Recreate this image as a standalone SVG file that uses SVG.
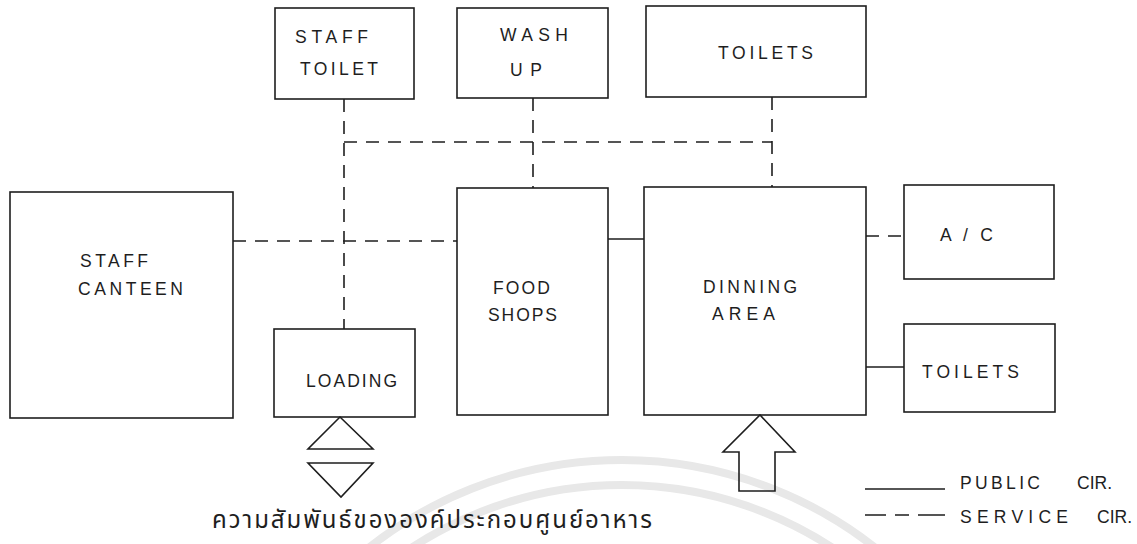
<svg xmlns="http://www.w3.org/2000/svg" width="1137" height="544" viewBox="0 0 1137 544">
<defs>
<style>
.bg{fill:#ffffff}
.box{fill:none;stroke:#1e1e1e;stroke-width:1.6}
.pub{fill:none;stroke:#1e1e1e;stroke-width:1.6}
.svc{fill:none;stroke:#1e1e1e;stroke-width:1.6;stroke-dasharray:13 9}
.wm{fill:none;stroke:#e8e8e8;stroke-width:8}
.lbl{font-family:"Liberation Sans","DejaVu Sans",sans-serif;font-size:17.5px;fill:#1e1e1e}
.th{font-family:"Noto Sans Thai","Noto Sans","DejaVu Sans",sans-serif;font-size:24px;fill:#1e1e1e}
</style>
</defs>
<rect class="bg" x="0" y="0" width="1137" height="544"/>
<g id="watermark">
<circle class="wm" cx="622" cy="869" r="409"/>
<circle class="wm" cx="622" cy="869" r="384"/>
</g>
<g id="connectors">
<path class="svc" d="M344 99 V329"/>
<path class="svc" d="M344 142 H772"/>
<path class="svc" d="M533 98 V188"/>
<path class="svc" d="M772 97 V187"/>
<path class="svc" d="M233 241 H457"/>
<path class="svc" d="M866 236 H904"/>
<path class="pub" d="M608 239 H644"/>
<path class="pub" d="M866 367 H904"/>
</g>
<g id="staff-toilet">
<rect class="box" x="275" y="8" width="139" height="91"/>
<text class="lbl" x="295" y="43" textLength="73" lengthAdjust="spacing">STAFF</text>
<text class="lbl" x="300" y="75" textLength="78" lengthAdjust="spacing">TOILET</text>
</g>
<g id="wash-up">
<rect class="box" x="457" y="8" width="151" height="90"/>
<text class="lbl" x="500" y="41" textLength="68" lengthAdjust="spacing">WASH</text>
<text class="lbl" x="510" y="76" textLength="32" lengthAdjust="spacing">UP</text>
</g>
<g id="toilets-top">
<rect class="box" x="646" y="6" width="220" height="91"/>
<text class="lbl" x="718" y="59" textLength="95" lengthAdjust="spacing">TOILETS</text>
</g>
<g id="staff-canteen">
<rect class="box" x="10" y="192" width="223" height="226"/>
<text class="lbl" x="80" y="267" textLength="68" lengthAdjust="spacing">STAFF</text>
<text class="lbl" x="78" y="295" textLength="105" lengthAdjust="spacing">CANTEEN</text>
</g>
<g id="loading">
<rect class="box" x="274" y="329" width="141" height="88"/>
<text class="lbl" x="306" y="387" textLength="91" lengthAdjust="spacing">LOADING</text>
<polygon class="box" points="340,417 308,449 373,449"/>
<polygon class="box" points="308,463 373,463 341,497"/>
</g>
<g id="food-shops">
<rect class="box" x="457" y="188" width="151" height="227"/>
<text class="lbl" x="493" y="294" textLength="57" lengthAdjust="spacing">FOOD</text>
<text class="lbl" x="488" y="321" textLength="69" lengthAdjust="spacing">SHOPS</text>
</g>
<g id="dining-area">
<rect class="box" x="644" y="187" width="222" height="228"/>
<text class="lbl" x="703" y="293" textLength="94" lengthAdjust="spacing">DINNING</text>
<text class="lbl" x="712" y="320" textLength="63" lengthAdjust="spacing">AREA</text>
<polygon class="box" points="760,415 795,452 775,452 775,491 739,491 739,452 723,452"/>
</g>
<g id="ac">
<rect class="box" x="904" y="185" width="150" height="94"/>
<text class="lbl" x="940" y="241" textLength="53" lengthAdjust="spacing">A / C</text>
</g>
<g id="toilets-right">
<rect class="box" x="904" y="324" width="151" height="88"/>
<text class="lbl" x="922" y="378" textLength="97" lengthAdjust="spacing">TOILETS</text>
</g>
<g id="legend">
<path class="pub" d="M865 489 H945"/>
<text class="lbl" x="960" y="489" textLength="80" lengthAdjust="spacing">PUBLIC</text>
<text class="lbl" x="1077" y="489">CIR.</text>
<path class="pub" d="M865 515 H945" style="stroke-dasharray:21 9 14 9 27"/>
<text class="lbl" x="960" y="523" textLength="108" lengthAdjust="spacing">SERVICE</text>
<text class="lbl" x="1097" y="523">CIR.</text>
</g>
<g id="caption">
<text class="th" x="212" y="528" textLength="440" lengthAdjust="spacing">ความสัมพันธ์ขององค์ประกอบศูนย์อาหาร</text>
</g>
</svg>
